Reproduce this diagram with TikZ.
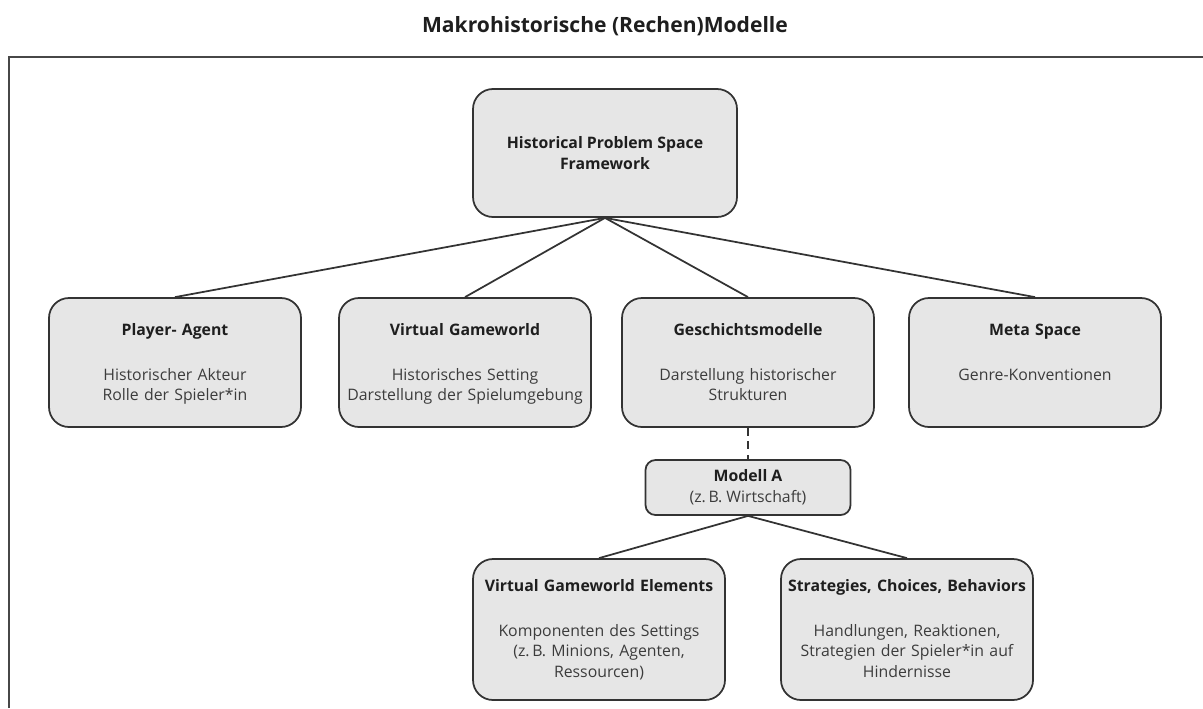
\documentclass[tikz,border=0pt]{standalone}
\usepackage{fontspec}
\setmainfont{Open Sans}
\definecolor{mFrame}{HTML}{474747}
\definecolor{mEdge}{HTML}{333333}
\definecolor{mFill}{HTML}{E6E6E6}
\definecolor{mHead}{HTML}{1E1E1E}
\definecolor{mBody}{HTML}{3C3C3C}
\usetikzlibrary{positioning}

\newcommand{\cardhead}[1]{{\bfseries\color{mHead}#1}}

\tikzset{
  card/.style={draw=mEdge, fill=mFill, line width=0.35mm, rounded corners=4mm,
    inner sep=0pt, align=center, text=mBody,
    font=\fontsize{9}{11.7}\selectfont},
  rowcard/.style={card, text width=50.4mm, text height=7.4mm, text depth=18.4mm},
  leafcard/.style={card, text width=50.4mm, text height=6.4mm, text depth=21.8mm},
  link/.style={draw=mEdge, line width=0.35mm}
}

\begin{document}
\begin{tikzpicture}[x=0.2mm, y=-0.2mm]
  \useasboundingbox (0,0) rectangle (1203,708);
  % title and frame
  \node[font=\fontsize{12}{14}\selectfont\bfseries, text=mHead] (title) at (605,26)
       {Makrohistorische (Rechen)Modelle};
  \draw[mFrame, line width=0.4mm] (9,708) |- (1203,57);
  % root
  \node[card, minimum width=52.8mm, minimum height=25.6mm] (hpsf) at (605,153)
       {\cardhead{Historical Problem Space}\\\cardhead{Framework}};
  % second row
  \node[rowcard] (agent) at (175,362.5)
       {\cardhead{Player- Agent}\\[4.9mm]Historischer Akteur\\Rolle der Spieler*in};
  \node[rowcard] (world) at (465,362.5)
       {\cardhead{Virtual Gameworld}\\[4.9mm]Historisches Setting\\Darstellung der Spielumgebung};
  \node[rowcard] (gmod) at (748,362.5)
       {\cardhead{Geschichtsmodelle}\\[4.9mm]Darstellung historischer\\Strukturen};
  \node[rowcard] (meta) at (1035,362.5)
       {\cardhead{Meta Space}\\[4.9mm]Genre-Konventionen};
  % model
  \node[card, rounded corners=2mm, minimum width=41mm, minimum height=11mm] (modA) at (748,487.5)
       {\cardhead{Modell A}\\(z.\,B. Wirtschaft)};
  % leaves
  \node[leafcard] (elems) at (599,629.5)
       {\cardhead{Virtual Gameworld Elements}\\[4.9mm]Komponenten des Settings\\(z.\,B. Minions, Agenten,\\Ressourcen)};
  \node[leafcard] (strat) at (907,629.5)
       {\cardhead{Strategies, Choices, Behaviors}\\[4.9mm]Handlungen, Reaktionen,\\Strategien der Spieler*in auf\\Hindernisse};
  % connectors
  \foreach \n in {agent, world, gmod, meta}
    \draw[link] (hpsf.south) -- (\n.north);
  \draw[link, dash pattern=on 1.6mm off 1.1mm] (gmod.south) -- (modA.north);
  \draw[link] (modA.south) -- (elems.north);
  \draw[link] (modA.south) -- (strat.north);
\end{tikzpicture}
\end{document}
